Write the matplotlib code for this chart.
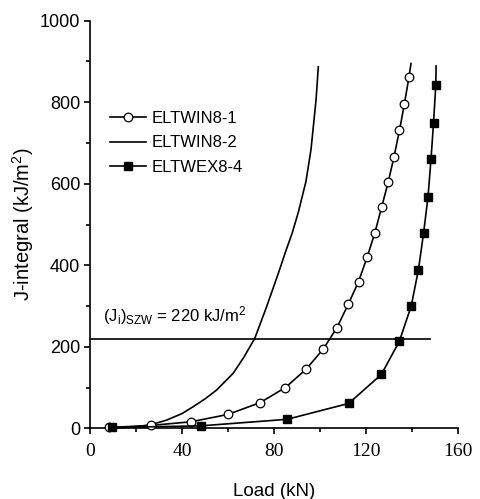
import matplotlib
matplotlib.use("Agg")
import matplotlib.pyplot as plt
from matplotlib.ticker import MultipleLocator

plt.rcParams['font.family'] = ['Liberation Sans', 'DejaVu Sans']
plt.rcParams['mathtext.fontset'] = 'custom'
plt.rcParams['mathtext.rm'] = 'Liberation Sans'
plt.rcParams['mathtext.it'] = 'Liberation Sans'

# ELTWIN8-1 (open circles)
w1_load = [8.5, 26.5, 44, 60, 74, 85, 94, 101.4, 107.4, 112.3, 116.8, 120.6,
           123.9, 126.8, 129.7, 132.2, 134.6, 136.7, 138.7]
w1_j = [2, 7, 16, 34, 63, 100, 145, 194, 247, 304, 360, 421,
        480, 542, 604, 666, 731, 795, 861]
w1_end = (139.6, 895)

# ELTWIN8-2 (line only)
w2_load = [8, 18, 26, 33.3, 40, 44.9, 50, 55.1, 62.3, 67, 71.7, 76.8, 81.9,
           85.3, 88, 90.6, 93.9, 96.1, 98.3, 99.3]
w2_j = [0, 3, 8, 20, 36, 53, 72, 94, 135, 175, 221, 298, 380,
        437, 480, 530, 605, 683, 805, 887]

# ELTWEX8-4 (filled squares)
x4_load = [9.5, 48.3, 85.7, 112.5, 126.7, 134.5, 139.7, 142.8, 145.1, 147,
           148.3, 149.4, 150.4]
x4_j = [2, 6, 22, 61, 132, 213, 300, 388, 480, 568, 660, 750, 843]
x4_end = (150.5, 889)

j_szw = 220
j_szw_span = (0, 148)

fig = plt.figure(figsize=(4.81, 4.99), dpi=100)
ax = fig.add_axes([0.187, 0.1417, 0.765, 0.8168])

n1 = len(w1_load)
ax.plot(w1_load + [w1_end[0]], w1_j + [w1_end[1]], color='black', lw=1.2,
        marker='o', ms=6.2, mfc='white', mec='black', mew=0.9,
        markevery=list(range(n1)), clip_on=False, label='ELTWIN8-1', zorder=3)
ax.plot(w2_load, w2_j, color='black', lw=1.2, clip_on=False,
        label='ELTWIN8-2', zorder=2)
n4 = len(x4_load)
ax.plot(x4_load + [x4_end[0]], x4_j + [x4_end[1]], color='black', lw=1.2,
        marker='s', ms=5.6, mfc='black', mec='black',
        markevery=list(range(n4)), clip_on=False, label='ELTWEX8-4', zorder=3)

ax.plot(list(j_szw_span), [j_szw, j_szw], color='black', lw=1.2, zorder=1)
ax.text(5.7, 262, r'$\mathrm{(J_i)_{SZW}}$ = 220 kJ/m$^2$', fontsize=12,
        ha='left', va='baseline')

ax.set_xlim(0, 160)
ax.set_ylim(0, 1000)
ax.xaxis.set_major_locator(MultipleLocator(40))
ax.xaxis.set_minor_locator(MultipleLocator(20))
ax.yaxis.set_major_locator(MultipleLocator(200))
ax.yaxis.set_minor_locator(MultipleLocator(100))

for s in ['top', 'right']:
    ax.spines[s].set_visible(False)
for s in ['left', 'bottom']:
    ax.spines[s].set_linewidth(1.2)

ax.tick_params(which='major', direction='out', length=4.5, width=1.2)
ax.tick_params(which='minor', direction='out', length=3, width=1.2)
ax.tick_params(axis='y', labelsize=13, pad=2.5)
ax.tick_params(axis='x', pad=6)
for lab in ax.get_xticklabels():
    lab.set_fontfamily('Liberation Serif')
    lab.set_fontsize(14)

ax.set_xlabel('Load (kN)', fontsize=13.5, labelpad=17)
ax.set_ylabel('J-integral (kJ/m$^2$)', fontsize=14.5, labelpad=3)

leg = ax.legend(loc='upper left', bbox_to_anchor=(0.054, 0.778), frameon=False,
                fontsize=12, handlelength=2.2, handletextpad=0.3,
                labelspacing=0.55, borderpad=0, borderaxespad=0)

fig.savefig('out.png', dpi=100)
